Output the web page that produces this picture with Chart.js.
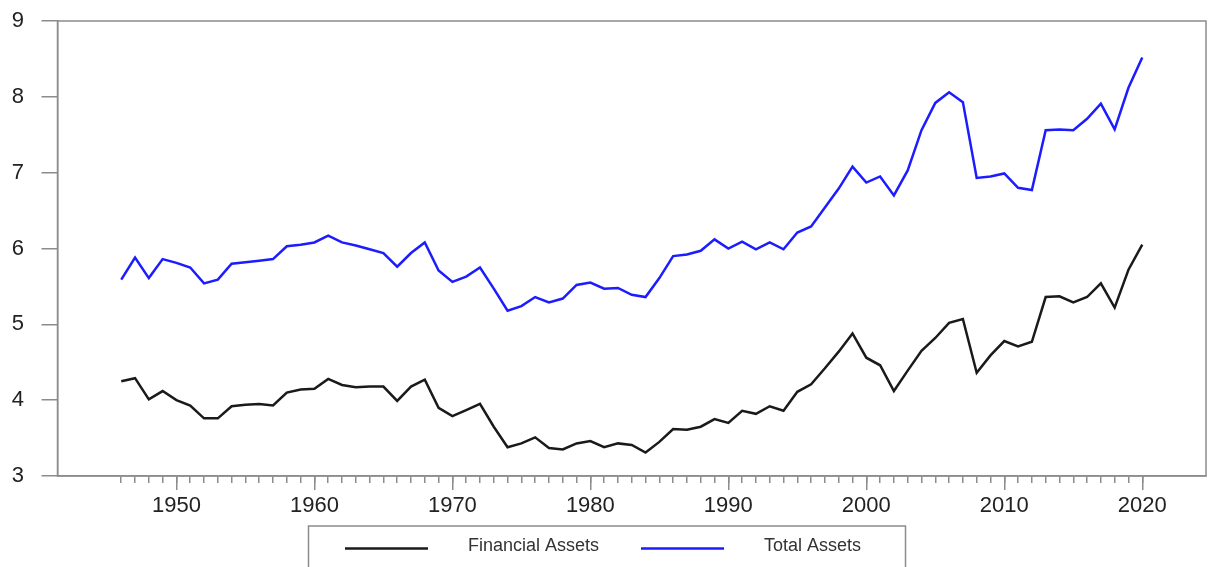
<!DOCTYPE html>
<html>
<head>
<meta charset="utf-8">
<title>Financial vs Total Assets</title>
<script src="https://cdn.jsdelivr.net/npm/chart.js@4/dist/chart.umd.min.js"></script>
<style>
  html, body { margin: 0; padding: 0; background: #fff; }
  canvas { display: block; }
</style>
</head>
<body>
<canvas id="assetChart" width="1209" height="567"></canvas>
<script>
// years on the x axis
const years = [
  1946, 1947, 1948, 1949, 1950, 1951, 1952, 1953, 1954, 1955,
  1956, 1957, 1958, 1959, 1960, 1961, 1962, 1963, 1964, 1965,
  1966, 1967, 1968, 1969, 1970, 1971, 1972, 1973, 1974, 1975,
  1976, 1977, 1978, 1979, 1980, 1981, 1982, 1983, 1984, 1985,
  1986, 1987, 1988, 1989, 1990, 1991, 1992, 1993, 1994, 1995,
  1996, 1997, 1998, 1999, 2000, 2001, 2002, 2003, 2004, 2005,
  2006, 2007, 2008, 2009, 2010, 2011, 2012, 2013, 2014, 2015,
  2016, 2017, 2018, 2019, 2020
];
const decadeTicks = [1950, 1960, 1970, 1980, 1990, 2000, 2010, 2020];
const yTicks = [3, 4, 5, 6, 7, 8, 9];

// Financial Assets (black)
const financialAssets = [
  4.25, 4.29, 4.01, 4.12, 4.00, 3.93, 3.76, 3.76, 3.92, 3.94,
  3.95, 3.93, 4.10, 4.14, 4.15, 4.28, 4.20, 4.17, 4.18, 4.18,
  3.99, 4.18, 4.27, 3.90, 3.79, 3.87, 3.95, 3.65, 3.38, 3.43,
  3.51, 3.37, 3.35, 3.43, 3.46, 3.38, 3.43, 3.41, 3.31, 3.45,
  3.62, 3.61, 3.65, 3.75, 3.70, 3.86, 3.82, 3.92, 3.86, 4.11,
  4.21, 4.42, 4.64, 4.88, 4.56, 4.46, 4.12, 4.39, 4.65, 4.82,
  5.02, 5.07, 4.36, 4.59, 4.78, 4.71, 4.77, 5.36, 5.37, 5.29,
  5.36, 5.54, 5.22, 5.72, 6.05
];

// Total Assets (blue)
const totalAssets = [
  5.59, 5.88, 5.61, 5.86, 5.81, 5.75, 5.54, 5.59, 5.80, 5.82,
  5.84, 5.86, 6.03, 6.05, 6.08, 6.17, 6.08, 6.04, 5.99, 5.94,
  5.76, 5.94, 6.08, 5.71, 5.56, 5.63, 5.75, 5.47, 5.18, 5.24,
  5.36, 5.29, 5.34, 5.52, 5.55, 5.47, 5.48, 5.39, 5.36, 5.61,
  5.90, 5.92, 5.97, 6.12, 6.00, 6.09, 5.99, 6.08, 5.99, 6.21,
  6.29, 6.54, 6.79, 7.08, 6.87, 6.95, 6.70, 7.03, 7.56, 7.92,
  8.06, 7.93, 6.93, 6.95, 6.99, 6.80, 6.77, 7.56, 7.57, 7.56,
  7.71, 7.91, 7.57, 8.12, 8.52
];

const AXIS_COLOR = '#8c8c8c';
const TEXT_COLOR = '#222';
const FONT = "'Liberation Sans', Arial, sans-serif";
const X_MIN = 1941.38, X_MAX = 2024.62;

// plot frame + boxed legend under the axis
const framePlugin = {
  id: 'frameAndLegend',
  afterDraw(chart) {
    const { ctx, chartArea: a } = chart;
    ctx.save();
    ctx.strokeStyle = AXIS_COLOR;
    ctx.lineWidth = 1.5;
    ctx.strokeRect(a.left, a.top, a.right - a.left, a.bottom - a.top);

    // legend
    ctx.strokeRect(308.5, 526, 597, 60);
    const items = [
      { lx: 345, tx: 468 },
      { lx: 641, tx: 764 }
    ];
    ctx.font = '18px ' + FONT;
    ctx.textBaseline = 'middle';
    ctx.textAlign = 'left';
    chart.data.datasets.forEach((ds, i) => {
      const it = items[i];
      ctx.strokeStyle = ds.borderColor;
      ctx.lineWidth = 2.5;
      ctx.beginPath();
      ctx.moveTo(it.lx, 548.5);
      ctx.lineTo(it.lx + 83, 548.5);
      ctx.stroke();
      ctx.fillStyle = '#333';
      ctx.fillText(ds.label, it.tx, 546);
    });
    ctx.restore();
  }
};

const ctx = document.getElementById('assetChart').getContext('2d');
new Chart(ctx, {
  type: 'line',
  data: {
    datasets: [
      {
        label: 'Financial Assets',
        data: years.map((y, i) => ({ x: y, y: financialAssets[i] })),
        borderColor: '#1a1a1a',
        borderWidth: 2.5,
        pointRadius: 0,
        tension: 0
      },
      {
        label: 'Total Assets',
        data: years.map((y, i) => ({ x: y, y: totalAssets[i] })),
        borderColor: '#1c1cff',
        borderWidth: 2.5,
        pointRadius: 0,
        tension: 0
      }
    ]
  },
  options: {
    responsive: false,
    animation: false,
    devicePixelRatio: 1,
    layout: { autoPadding: false, padding: { left: 0, right: 3, top: 21, bottom: 0 } },
    plugins: {
      legend: { display: false },
      tooltip: { enabled: false }
    },
    scales: {
      x: {
        type: 'linear',
        min: X_MIN,
        max: X_MAX,
        weight: 1,
        afterBuildTicks: s => { s.ticks = years.map(v => ({ value: v })); },
        afterFit: s => { s.height = 91; s.paddingLeft = 0; s.paddingRight = 0; },
        grid: { drawOnChartArea: false, tickLength: 7, color: AXIS_COLOR, lineWidth: 1.5 },
        border: { color: AXIS_COLOR, width: 1.5 },
        ticks: {
          autoSkip: false,
          maxRotation: 0,
          padding: 10,
          color: TEXT_COLOR,
          font: { size: 22, family: FONT },
          callback: v => (v % 10 === 0 ? String(v) : '')
        }
      },
      xMajor: {
        type: 'linear',
        position: 'bottom',
        min: X_MIN,
        max: X_MAX,
        weight: 0,
        afterBuildTicks: s => { s.ticks = decadeTicks.map(v => ({ value: v })); },
        afterFit: s => { s.height = 0; s.paddingLeft = 0; s.paddingRight = 0; },
        grid: { drawOnChartArea: false, tickLength: 14, color: AXIS_COLOR, lineWidth: 1.5 },
        border: { display: false },
        ticks: { display: false }
      },
      y: {
        min: 3,
        max: 9,
        afterBuildTicks: s => { s.ticks = yTicks.map(v => ({ value: v })); },
        afterFit: s => { s.width = 57.5; s.paddingTop = 0; s.paddingBottom = 0; },
        grid: { drawOnChartArea: false, tickLength: 16, color: AXIS_COLOR, lineWidth: 1.5 },
        border: { color: AXIS_COLOR, width: 1.5 },
        ticks: {
          padding: 17.5,
          color: TEXT_COLOR,
          font: { size: 22, family: FONT }
        }
      }
    }
  },
  plugins: [framePlugin]
});
</script>
</body>
</html>
